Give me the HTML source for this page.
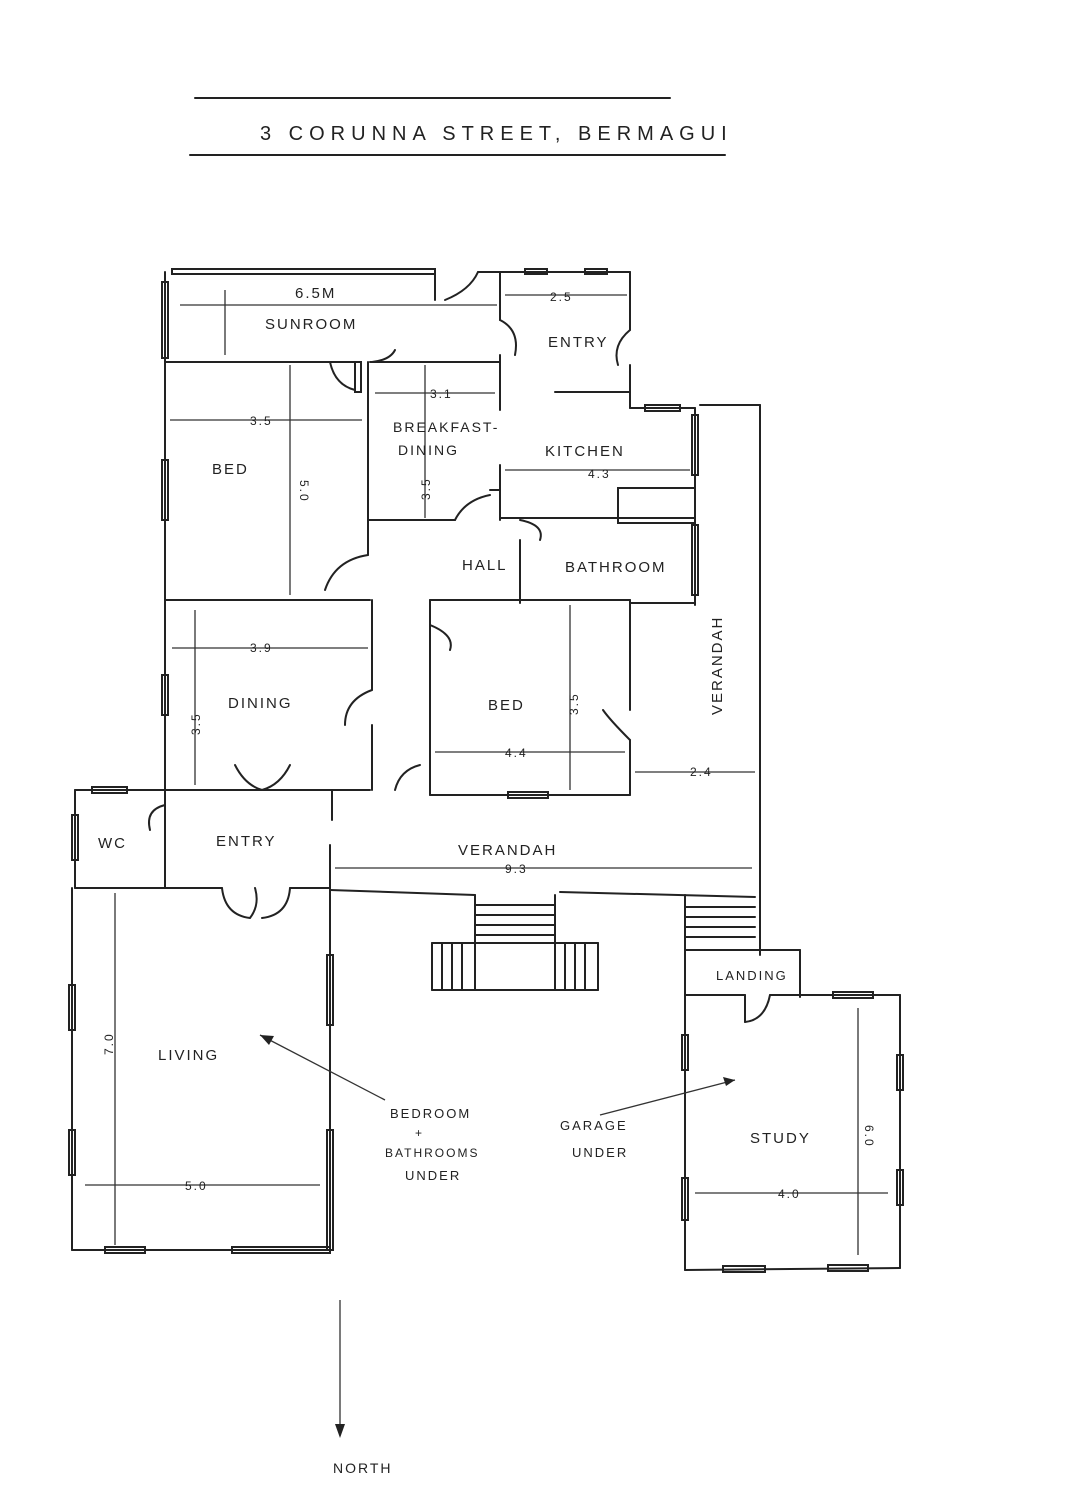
<!DOCTYPE html>
<html><head><meta charset="utf-8"><style>
html,body{margin:0;padding:0;background:#fff}
svg{display:block}
text{font-family:"Liberation Sans",sans-serif;fill:#222;font-size:15px;letter-spacing:2px}
</style></head><body>
<svg width="1071" height="1500" viewBox="0 0 1071 1500" xmlns="http://www.w3.org/2000/svg">
<g stroke="#222" stroke-width="2" fill="none" stroke-linecap="round">
<line x1="195" y1="98" x2="670" y2="98"/>
<line x1="190" y1="155" x2="725" y2="155"/>
<rect x="172" y="269" width="263" height="5"/>
<line x1="165" y1="272" x2="165" y2="362"/>
<rect x="162" y="282" width="6" height="76"/>
<line x1="165" y1="362" x2="355" y2="362"/>
<line x1="370" y1="362" x2="500" y2="362"/>
<line x1="435" y1="272" x2="435" y2="300"/>
<path d="M445 300 Q470 290 478 272"/>
<line x1="478" y1="272" x2="500" y2="272"/>
<line x1="500" y1="272" x2="630" y2="272"/>
<rect x="525" y="269" width="22" height="5"/><rect x="585" y="269" width="22" height="5"/>
<line x1="500" y1="272" x2="500" y2="320"/>
<path d="M500 320 Q520 330 515 355"/>
<line x1="500" y1="355" x2="500" y2="410"/>
<line x1="630" y1="272" x2="630" y2="330"/>
<path d="M630 330 Q612 345 618 365"/>
<line x1="630" y1="365" x2="630" y2="408"/>
<line x1="555" y1="392" x2="630" y2="392"/>
<line x1="630" y1="408" x2="695" y2="408"/>
<rect x="645" y="405" width="35" height="6"/>
<line x1="695" y1="408" x2="695" y2="605"/>
<rect x="692" y="415" width="6" height="60"/><rect x="692" y="525" width="6" height="70"/>
<line x1="500" y1="465" x2="500" y2="520"/>
<line x1="500" y1="518" x2="695" y2="518"/>
<rect x="618" y="488" width="77" height="35"/>
<line x1="520" y1="540" x2="520" y2="603"/>
<line x1="630" y1="603" x2="695" y2="603"/>
<path d="M520 520 Q545 525 540 540"/>
<line x1="165" y1="362" x2="165" y2="790"/>
<rect x="162" y="460" width="6" height="60"/><rect x="162" y="675" width="6" height="40"/>
<line x1="368" y1="362" x2="368" y2="555"/>
<rect x="355" y="362" width="6" height="30"/><path d="M330 362 Q335 385 355 390"/>
<path d="M372 362 Q390 360 395 350"/>
<line x1="368" y1="520" x2="455" y2="520"/>
<path d="M455 520 Q465 500 490 495"/><line x1="490" y1="490" x2="500" y2="490"/>
<line x1="165" y1="600" x2="370" y2="600"/>
<path d="M325 590 Q335 560 368 555"/>
<line x1="372" y1="600" x2="372" y2="690"/>
<path d="M372 690 Q345 700 345 725"/>
<line x1="372" y1="725" x2="372" y2="790"/>
<line x1="165" y1="790" x2="370" y2="790"/>
<path d="M235 765 Q245 785 262 790"/><path d="M290 765 Q280 785 262 790"/>
<line x1="332" y1="790" x2="332" y2="820"/>
<path d="M395 790 Q400 770 420 765"/>
<line x1="430" y1="600" x2="430" y2="795"/>
<path d="M430 625 Q455 635 450 650"/>
<line x1="430" y1="600" x2="630" y2="600"/>
<line x1="630" y1="600" x2="630" y2="710"/>
<path d="M630 740 Q610 720 603 710"/>
<line x1="630" y1="740" x2="630" y2="795"/>
<line x1="430" y1="795" x2="630" y2="795"/>
<rect x="508" y="792" width="40" height="6"/>
<line x1="700" y1="405" x2="760" y2="405"/>
<line x1="760" y1="405" x2="760" y2="955"/>
<line x1="75" y1="790" x2="165" y2="790"/>
<rect x="92" y="787" width="35" height="6"/>
<line x1="75" y1="790" x2="75" y2="888"/>
<rect x="72" y="815" width="6" height="45"/>
<line x1="165" y1="790" x2="165" y2="888"/>
<path d="M165 805 Q145 810 150 830"/>
<line x1="75" y1="888" x2="222" y2="888"/>
<line x1="290" y1="888" x2="330" y2="888"/>
<path d="M222 888 Q225 915 250 918 Q260 905 255 888"/>
<path d="M290 888 Q288 915 262 918"/>
<line x1="330" y1="845" x2="330" y2="1250"/>
<line x1="330" y1="890" x2="475" y2="895"/>
<line x1="560" y1="892" x2="755" y2="897"/>
<line x1="72" y1="888" x2="72" y2="1250"/>
<rect x="69" y="985" width="6" height="45"/><rect x="69" y="1130" width="6" height="45"/>
<rect x="327" y="955" width="6" height="70"/><rect x="327" y="1130" width="6" height="120"/>
<line x1="72" y1="1250" x2="330" y2="1250"/>
<rect x="105" y="1247" width="40" height="6"/><rect x="232" y="1247" width="98" height="6"/>
<line x1="475" y1="895" x2="475" y2="990"/><line x1="555" y1="895" x2="555" y2="990"/>
<line x1="475" y1="905" x2="555" y2="905"/><line x1="475" y1="915" x2="555" y2="915"/>
<line x1="475" y1="925" x2="555" y2="925"/><line x1="475" y1="935" x2="555" y2="935"/>
<line x1="432" y1="943" x2="598" y2="943"/><line x1="432" y1="990" x2="598" y2="990"/>
<line x1="432" y1="943" x2="432" y2="990"/><line x1="598" y1="943" x2="598" y2="990"/>
<line x1="442" y1="943" x2="442" y2="990"/><line x1="452" y1="943" x2="452" y2="990"/><line x1="462" y1="943" x2="462" y2="990"/>
<line x1="565" y1="943" x2="565" y2="990"/><line x1="575" y1="943" x2="575" y2="990"/><line x1="585" y1="943" x2="585" y2="990"/>
<line x1="685" y1="895" x2="685" y2="950"/>
<line x1="685" y1="907" x2="755" y2="907"/><line x1="685" y1="917" x2="755" y2="917"/><line x1="685" y1="927" x2="755" y2="927"/><line x1="685" y1="937" x2="755" y2="937"/>
<line x1="685" y1="950" x2="800" y2="950"/>
<line x1="800" y1="950" x2="800" y2="997"/>
<line x1="685" y1="950" x2="685" y2="1270"/>
<line x1="685" y1="995" x2="745" y2="995"/>
<line x1="745" y1="995" x2="745" y2="1022"/><path d="M745 1022 Q765 1020 770 995"/>
<line x1="770" y1="995" x2="900" y2="995"/>
<rect x="833" y="992" width="40" height="6"/>
<line x1="900" y1="995" x2="900" y2="1268"/>
<rect x="897" y="1055" width="6" height="35"/><rect x="897" y="1170" width="6" height="35"/>
<rect x="682" y="1035" width="6" height="35"/><rect x="682" y="1178" width="6" height="42"/>
<line x1="685" y1="1270" x2="900" y2="1268"/>
<rect x="723" y="1266" width="42" height="6"/><rect x="828" y="1265" width="40" height="6"/>
</g>
<g stroke="#333" stroke-width="1.3" fill="none">
<line x1="180" y1="305" x2="497" y2="305"/>
<line x1="225" y1="290" x2="225" y2="355"/>
<line x1="505" y1="295" x2="627" y2="295"/>
<line x1="375" y1="393" x2="495" y2="393"/>
<line x1="425" y1="365" x2="425" y2="518"/>
<line x1="170" y1="420" x2="362" y2="420"/>
<line x1="290" y1="365" x2="290" y2="595"/>
<line x1="505" y1="470" x2="690" y2="470"/>
<line x1="172" y1="648" x2="368" y2="648"/>
<line x1="195" y1="610" x2="195" y2="785"/>
<line x1="435" y1="752" x2="625" y2="752"/>
<line x1="570" y1="605" x2="570" y2="790"/>
<line x1="635" y1="772" x2="755" y2="772"/>
<line x1="335" y1="868" x2="752" y2="868"/>
<line x1="115" y1="893" x2="115" y2="1245"/>
<line x1="85" y1="1185" x2="320" y2="1185"/>
<line x1="858" y1="1008" x2="858" y2="1255"/>
<line x1="695" y1="1193" x2="888" y2="1193"/>
<line x1="260" y1="1035" x2="385" y2="1100"/>
<line x1="600" y1="1115" x2="735" y2="1080"/>
<line x1="340" y1="1300" x2="340" y2="1435"/>
</g>
<g fill="#222">
<path d="M340 1438 l-5 -14 l10 0z"/>
<path d="M260 1035 l14 1 l-5 9z"/>
<path d="M735 1080 l-12 -3 l3 9z"/>
</g>
<text x="260" y="140" style="font-size:20px;letter-spacing:6px">3 CORUNNA STREET, BERMAGUI</text>
<text x="295" y="298">6.5M</text>
<text x="265" y="329">SUNROOM</text>
<text x="550" y="301" style="font-size:12px">2.5</text>
<text x="548" y="347">ENTRY</text>
<text x="430" y="398" style="font-size:12px">3.1</text>
<text x="393" y="432" style="font-size:14px">BREAKFAST-</text>
<text x="398" y="455" style="font-size:14px">DINING</text>
<text x="545" y="456">KITCHEN</text>
<text x="588" y="478" style="font-size:12px">4.3</text>
<text x="250" y="425" style="font-size:12px">3.5</text>
<text x="212" y="474">BED</text>
<text x="300" y="480" style="font-size:12px" transform="rotate(90 300 480)">5.0</text>
<text x="430" y="500" style="font-size:12px" transform="rotate(-90 430 500)">3.5</text>
<text x="462" y="570">HALL</text>
<text x="565" y="572">BATHROOM</text>
<text x="250" y="652" style="font-size:12px">3.9</text>
<text x="228" y="708">DINING</text>
<text x="200" y="735" style="font-size:12px" transform="rotate(-90 200 735)">3.5</text>
<text x="488" y="710">BED</text>
<text x="578" y="715" style="font-size:12px" transform="rotate(-90 578 715)">3.5</text>
<text x="505" y="757" style="font-size:12px">4.4</text>
<text x="690" y="776" style="font-size:12px">2.4</text>
<text x="722" y="715" transform="rotate(-90 722 715)">VERANDAH</text>
<text x="98" y="848">WC</text>
<text x="216" y="846">ENTRY</text>
<text x="458" y="855">VERANDAH</text>
<text x="505" y="873" style="font-size:12px">9.3</text>
<text x="716" y="980" style="font-size:13px">LANDING</text>
<text x="158" y="1060">LIVING</text>
<text x="113" y="1055" style="font-size:12px" transform="rotate(-90 113 1055)">7.0</text>
<text x="185" y="1190" style="font-size:12px">5.0</text>
<text x="390" y="1118" style="font-size:13px">BEDROOM</text>
<text x="415" y="1137" style="font-size:12px">+</text>
<text x="385" y="1157" style="font-size:12px">BATHROOMS</text>
<text x="405" y="1180" style="font-size:13px">UNDER</text>
<text x="560" y="1130" style="font-size:13px">GARAGE</text>
<text x="572" y="1157" style="font-size:13px">UNDER</text>
<text x="750" y="1143">STUDY</text>
<text x="865" y="1125" style="font-size:12px" transform="rotate(90 865 1125)">6.0</text>
<text x="778" y="1198" style="font-size:12px">4.0</text>
<text x="333" y="1473" style="font-size:14px">NORTH</text>
</svg>
</body></html>
